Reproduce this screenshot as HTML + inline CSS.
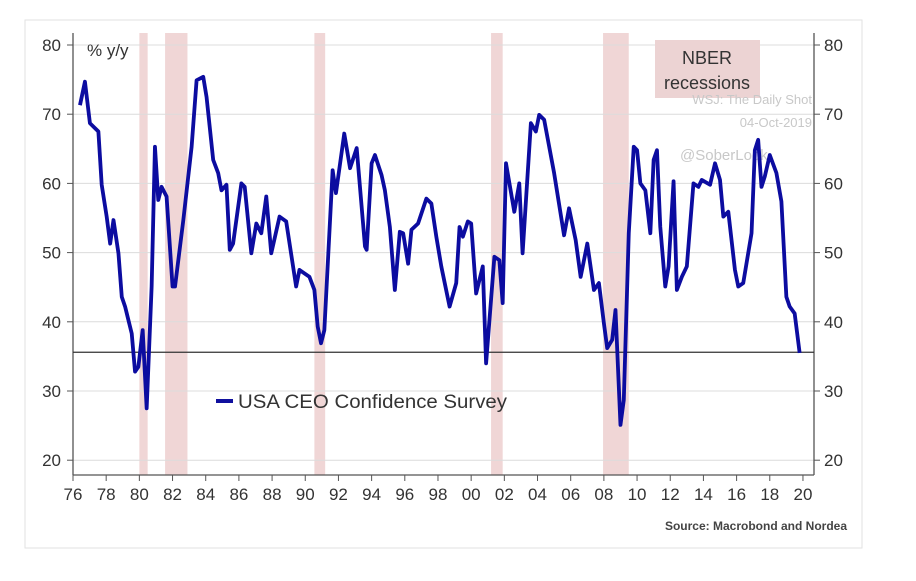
<!DOCTYPE html>
<html><head><meta charset="utf-8"><style>
body{margin:0;background:#fff;width:916px;height:576px;overflow:hidden;font-family:"Liberation Sans",sans-serif}
</style></head><body>
<svg id="chart" width="916" height="576" xmlns="http://www.w3.org/2000/svg">
<rect x="25" y="20" width="837" height="528" fill="#fff" stroke="#e2e2e2"/>
<g id="rec"></g><g id="grid"></g><g id="axes"></g>
<text x="695" y="78" font-size="13" fill="#c8c8c8">Posted on</text>
<g>
<rect x="655" y="40" width="105" height="58" fill="#ecd3d3"/>
<text x="707" y="64" font-size="18" text-anchor="middle" fill="#333">NBER</text>
<text x="707" y="89" font-size="18" text-anchor="middle" fill="#333">recessions</text>
</g>
<text x="812" y="104" font-size="13" fill="#c8c8c8" text-anchor="end">WSJ: The Daily Shot</text>
<text x="812" y="127" font-size="13" fill="#c8c8c8" text-anchor="end">04-Oct-2019</text>
<text x="680" y="160" font-size="15" fill="#c8c8c8">@SoberLook</text>
<g id="series"></g>
<text x="87" y="56" font-size="17" fill="#333">% y/y</text>
<line x1="216" y1="401" x2="233" y2="401" stroke="#10109e" stroke-width="4"/>
<text x="238" y="408" font-size="19" textLength="269" lengthAdjust="spacingAndGlyphs" fill="#333">USA CEO Confidence Survey</text>
<text x="847" y="530" font-size="12" fill="#444" font-weight="bold" text-anchor="end">Source: Macrobond and Nordea</text>
</svg>
<script>
const years=[1976.42,1976.72,1977.02,1977.53,1977.73,1978.03,1978.24,1978.44,1978.74,1978.94,1979.14,1979.54,1979.74,1979.94,1980.2,1980.44,1980.74,1980.94,1981.14,1981.34,1981.64,1982.0,1982.15,1982.65,1983.15,1983.45,1983.85,1984.05,1984.45,1984.75,1984.95,1985.25,1985.45,1985.65,1986.15,1986.35,1986.75,1987.05,1987.35,1987.65,1987.95,1988.45,1988.85,1989.45,1989.65,1990.25,1990.55,1990.75,1990.95,1991.15,1991.65,1991.85,1992.35,1992.7,1993.1,1993.6,1993.7,1994.0,1994.2,1994.6,1994.8,1995.1,1995.4,1995.7,1995.9,1996.2,1996.4,1996.8,1997.3,1997.6,1997.9,1998.2,1998.7,1999.1,1999.3,1999.5,1999.8,2000.0,2000.3,2000.7,2000.9,2001.4,2001.7,2001.9,2002.1,2002.6,2002.9,2003.1,2003.6,2003.9,2004.1,2004.4,2005.0,2005.6,2005.9,2006.3,2006.6,2007.0,2007.4,2007.7,2008.0,2008.2,2008.5,2008.7,2009.0,2009.2,2009.5,2009.8,2010.0,2010.2,2010.5,2010.8,2011.0,2011.2,2011.4,2011.7,2011.9,2012.2,2012.4,2012.7,2013.0,2013.4,2013.7,2013.9,2014.4,2014.7,2015.0,2015.2,2015.5,2015.9,2016.1,2016.4,2016.9,2017.1,2017.3,2017.5,2017.7,2018.0,2018.4,2018.7,2019.0,2019.2,2019.5,2019.8];
const values=[71.3,74.7,68.7,67.5,59.8,55.2,51.3,54.7,49.9,43.6,42.2,38.3,32.8,33.5,38.8,27.5,45.1,65.3,57.6,59.5,58.1,45.1,45.1,54.7,65.3,74.9,75.4,72.5,63.4,61.5,59.0,59.8,50.4,51.3,60.0,59.5,49.9,54.2,52.8,58.1,49.9,55.2,54.5,45.1,47.5,46.5,44.6,39.3,36.9,38.8,61.9,58.6,67.2,62.2,65.1,50.9,50.4,62.9,64.1,61.2,59.0,53.7,44.6,53.0,52.8,48.4,53.3,54.2,57.8,57.1,52.3,48.0,42.2,45.6,53.7,52.3,54.5,54.2,44.1,48.0,34.0,49.4,48.9,42.7,62.9,55.9,60.0,49.9,68.7,67.5,69.9,69.2,61.5,52.5,56.4,51.8,46.5,51.3,44.6,45.6,39.8,36.2,37.4,41.7,25.1,28.7,52.8,65.3,64.8,60.0,59.0,52.8,63.4,64.8,53.7,45.1,48.0,60.3,44.6,46.5,48.0,60.0,59.5,60.5,59.8,62.9,60.5,55.2,55.9,47.5,45.1,45.6,52.8,64.8,66.3,59.5,61.0,64.1,61.5,57.4,43.6,42.2,41.2,35.5];
const recStart=[1980.0,1981.55,1990.55,2001.2,2007.95];
const recEnd=[1980.5,1982.9,1991.2,2001.9,2009.5];
const yTicks=[20,30,40,50,60,70,80];
const xTicks=[1976,1978,1980,1982,1984,1986,1988,1990,1992,1994,1996,1998,2000,2002,2004,2006,2008,2010,2012,2014,2016,2018,2020];
const refLevel=35.6;
const NS="http://www.w3.org/2000/svg";
const X=y=>73+(y-1976)*16.59, Y=v=>45+(80-v)*6.92;
function mk(p,t,a){const e=document.createElementNS(NS,t);for(const k in a)e.setAttribute(k,a[k]);document.getElementById(p).appendChild(e);return e;}
recStart.forEach((s,i)=>{const r=mk('rec','rect',{x:X(s),y:33,width:X(recEnd[i])-X(s),height:442,fill:'#f0d6d6'});

});
yTicks.forEach(v=>{const l=mk('grid','line',{x1:73,x2:814,y1:Y(v),y2:Y(v),stroke:'#dcdcdc','stroke-width':1});


mk('axes','line',{x1:67,x2:73,y1:Y(v),y2:Y(v),stroke:'#555'});
mk('axes','line',{x1:814,x2:820,y1:Y(v),y2:Y(v),stroke:'#555'});
const a=mk('axes','text',{x:61,y:Y(v)+6,'font-size':17,'text-anchor':'end',fill:'#333'});a.textContent=v;


const b=mk('axes','text',{x:824,y:Y(v)+6,'font-size':17,fill:'#333'});b.textContent=v;

});
mk('axes','line',{x1:73,x2:73,y1:33,y2:475,stroke:'#555','stroke-width':1.3});
mk('axes','line',{x1:814,x2:814,y1:33,y2:475,stroke:'#555','stroke-width':1.3});
mk('axes','line',{x1:73,x2:814,y1:475,y2:475,stroke:'#555','stroke-width':1.3});
xTicks.forEach(t=>{mk('axes','line',{x1:X(t),x2:X(t),y1:475,y2:481,stroke:'#555'});
const s=mk('axes','text',{x:X(t),y:500,'font-size':17,'text-anchor':'middle',fill:'#333'});s.textContent=String(t%100).padStart(2,'0');

});
const ref=mk('axes','line',{x1:73,x2:814,y1:Y(refLevel),y2:Y(refLevel),stroke:'#333','stroke-width':1.2});


const p=mk('series','polyline',{points:years.map((y,i)=>X(y)+','+Y(values[i])).join(' '),fill:'none',stroke:'#0c0ca0','stroke-width':3.8,'stroke-linejoin':'round'});


</script>
</body></html>
